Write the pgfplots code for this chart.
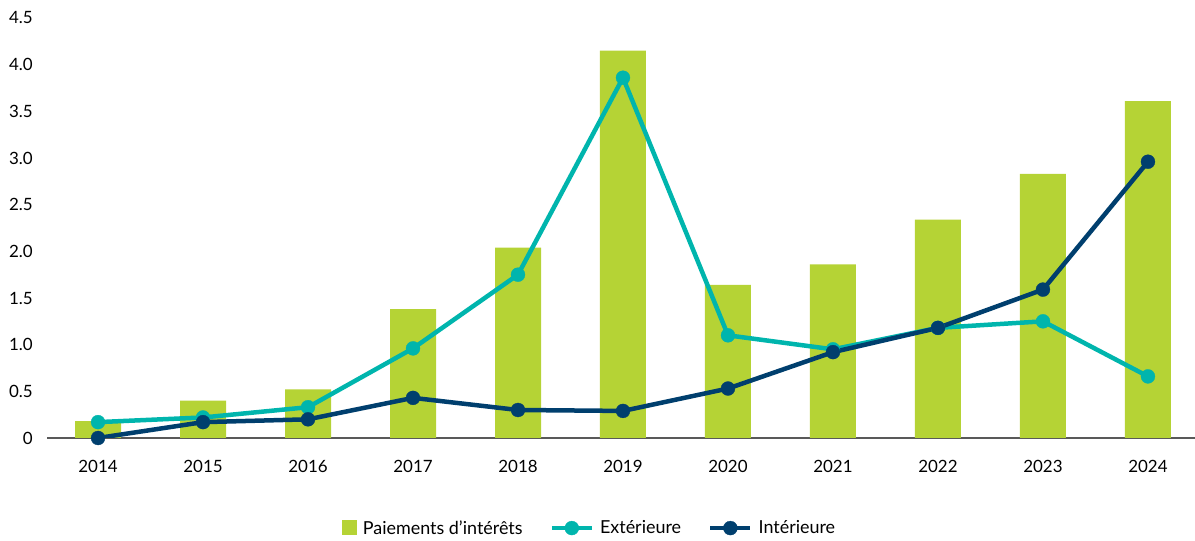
\documentclass[border=0pt]{standalone}
\usepackage{fontspec}
\setmainfont{Lato}
\usepackage{pgfplots}
\pgfplotsset{compat=1.18}
\definecolor{barg}{HTML}{B5D335}
\definecolor{tealc}{HTML}{00B5AD}
\definecolor{navyc}{HTML}{003F6E}
\begin{document}
\begin{tikzpicture}
\useasboundingbox (0,0) rectangle (1195bp,541bp);
\begin{axis}[
  at={(47bp,103bp)}, anchor=south west,
  scale only axis, width=1148bp, height=420bp,
  xmin=-0.486, xmax=10.448, ymin=0, ymax=4.5,
  axis x line*=bottom, axis y line*=left,
  y axis line style={draw=none},
  x axis line style={draw=black!65, line width=1.2bp},
  major tick length=0pt,
  xtick={0,...,10},
  xticklabels={2014,2015,2016,2017,2018,2019,2020,2021,2022,2023,2024},
  ytick={0,0.5,1,1.5,2,2.5,3,3.5,4,4.5},
  yticklabels={0,0.5,1.0,1.5,2.0,2.5,3.0,3.5,4.0,4.5},
  /pgf/number format/assume math mode=true,
  xticklabel style={font=\fontsize{17}{20}\selectfont, anchor=center, inner sep=0pt, yshift=-28bp},
  yticklabel style={font=\fontsize{17}{20}\selectfont, anchor=east, inner sep=0pt, xshift=-14bp},
  legend columns=3,
  legend style={at={(0.4717,-0.214)}, anchor=center, draw=none, fill=none,
    font=\fontsize{18}{21}\selectfont, inner sep=0pt, nodes={inner sep=0pt},
    /tikz/every odd column/.append style={column sep=6bp},
    /tikz/every even column/.append style={column sep=27bp}},
  legend cell align=left,
]
\addplot[ybar, bar width=46bp, fill=barg, draw=none,
  legend image code/.code={\fill[barg] (0bp,-7bp) rectangle (15bp,8bp);}]
  coordinates {(0,0.18) (1,0.40) (2,0.52) (3,1.38) (4,2.04) (5,4.15) (6,1.64) (7,1.86) (8,2.34) (9,2.83) (10,3.61)};
\addlegendentry{Paiements d’intérêts}
\addplot[tealc, line width=4.5bp, mark=*, mark size=7bp, mark options={fill=tealc, line width=0.3bp},
  legend image code/.code={\draw[mark repeat=2,mark phase=2] plot coordinates {(0bp,0bp) (20bp,0bp) (40bp,0bp)};}]
  coordinates {(0,0.17) (1,0.22) (2,0.33) (3,0.96) (4,1.75) (5,3.86) (6,1.10) (7,0.95) (8,1.18) (9,1.25) (10,0.66)};
\addlegendentry{Extérieure}
\addplot[navyc, line width=4.5bp, mark=*, mark size=7bp, mark options={fill=navyc, line width=0.3bp},
  legend image code/.code={\draw[mark repeat=2,mark phase=2] plot coordinates {(0bp,0bp) (20bp,0bp) (40bp,0bp)};}]
  coordinates {(0,0.00) (1,0.17) (2,0.20) (3,0.43) (4,0.30) (5,0.29) (6,0.53) (7,0.92) (8,1.18) (9,1.59) (10,2.96)};
\addlegendentry{Intérieure}
\end{axis}
\end{tikzpicture}
\end{document}
